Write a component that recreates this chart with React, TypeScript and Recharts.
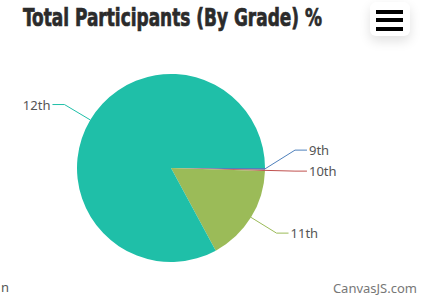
import React from 'react';
import { PieChart, Pie, Cell } from 'recharts';

const grades = ['9th', '10th', '11th', '12th'];
const shares = [0.3, 0.2, 16.6, 82.9];
const COLORS = ['#4F81BC', '#C0504E', '#9BBB58', '#1FBFA8'];

const data = grades.map((g, i) => ({ name: g, value: shares[i] }));

const CX = 171;
const CY = 168;
const R = 94;
const LINE_LEN = 30;
const TAIL = 12;
const GAP = 21;

const RAD = Math.PI / 180;
const polar = (cx: number, cy: number, r: number, angle: number) => ({
  x: cx + Math.cos(-RAD * angle) * r,
  y: cy + Math.sin(-RAD * angle) * r,
});

// label elbows, pushed apart so tiny slices don't stack on each other
function layoutLabels(cx: number, cy: number, r: number) {
  const total = shares.reduce((a, b) => a + b, 0);
  let acc = 0;
  const pts = shares.map((v) => {
    const mid = -((acc + v / 2) / total) * 360;
    acc += v;
    const edge = polar(cx, cy, r, mid);
    const elbow = polar(cx, cy, r + LINE_LEN, mid);
    return { edge, elbow, right: elbow.x >= cx };
  });
  [true, false].forEach((side) => {
    const idx = pts.map((p, i) => i).filter((i) => pts[i].right === side);
    idx.sort((a, b) => pts[b].elbow.y - pts[a].elbow.y);
    for (let k = 1; k < idx.length; k++) {
      const lower = pts[idx[k - 1]].elbow.y;
      if (lower - pts[idx[k]].elbow.y < GAP) pts[idx[k]].elbow.y = lower - GAP;
    }
  });
  return pts;
}

const renderLabel = (props: any) => {
  const { cx, cy, outerRadius, index } = props;
  const p = layoutLabels(cx, cy, outerRadius)[index];
  const dir = p.right ? 1 : -1;
  const endX = p.elbow.x + dir * TAIL;
  return (
    <g key={`lbl-${index}`}>
      <polyline
        points={`${p.edge.x},${p.edge.y} ${p.elbow.x},${p.elbow.y} ${endX},${p.elbow.y}`}
        fill="none"
        stroke={COLORS[index]}
        strokeWidth={1}
      />
      <text
        x={endX + dir * 2}
        y={p.elbow.y}
        textAnchor={p.right ? 'start' : 'end'}
        dominantBaseline="central"
        fill="#555"
        fontSize={13}
        fontFamily="'Noto Sans', sans-serif"
      >
        {grades[index]}
      </text>
    </g>
  );
};

export default function App() {
  return (
    <div style={{ position: 'absolute', left: 0, top: 0, width: 424, height: 300, background: '#fff' }}>
      <PieChart width={424} height={300} margin={{ top: 0, right: 0, bottom: 0, left: 0 }}>
        <Pie
          data={data}
          dataKey="value"
          nameKey="name"
          cx={CX}
          cy={CY}
          outerRadius={R}
          startAngle={0}
          endAngle={-360}
          stroke="none"
          labelLine={false}
          label={renderLabel}
          isAnimationActive={false}
        >
          {data.map((d, i) => (
            <Cell key={d.name} fill={COLORS[i]} />
          ))}
        </Pie>
      </PieChart>
      <svg width={424} height={300} style={{ position: 'absolute', left: 0, top: 0, pointerEvents: 'none' }}>
        <text
          x={23}
          y={26}
          fontSize={25}
          fontWeight="bold"
          fontFamily="'Liberation Sans Narrow', 'DejaVu Sans Condensed', sans-serif"
          fill="#2b2b2b"
          stroke="#2b2b2b"
          strokeWidth={0.7}
          textLength={299}
          lengthAdjust="spacingAndGlyphs"
        >
          Total Participants (By Grade) %
        </text>
        <text x={1} y={292} fontSize={13} fontFamily="'Noto Sans', sans-serif" fill="#555">
          n
        </text>
        <text
          x={417}
          y={293}
          textAnchor="end"
          fontSize={13}
          fontFamily="'Noto Sans', sans-serif"
          fill="#777"
        >
          CanvasJS.com
        </text>
      </svg>
      <div
        style={{
          position: 'absolute',
          left: 370,
          top: 2,
          width: 40,
          height: 34,
          boxShadow: '0 5px 12px rgba(0,0,0,0.12)',
          borderRadius: 6,
          background: '#fff',
        }}
      >
        {[8, 16, 25].map((t) => (
          <div
            key={t}
            style={{ position: 'absolute', left: 6, top: t, width: 27, height: 3.5, background: '#000' }}
          />
        ))}
      </div>
    </div>
  );
}
